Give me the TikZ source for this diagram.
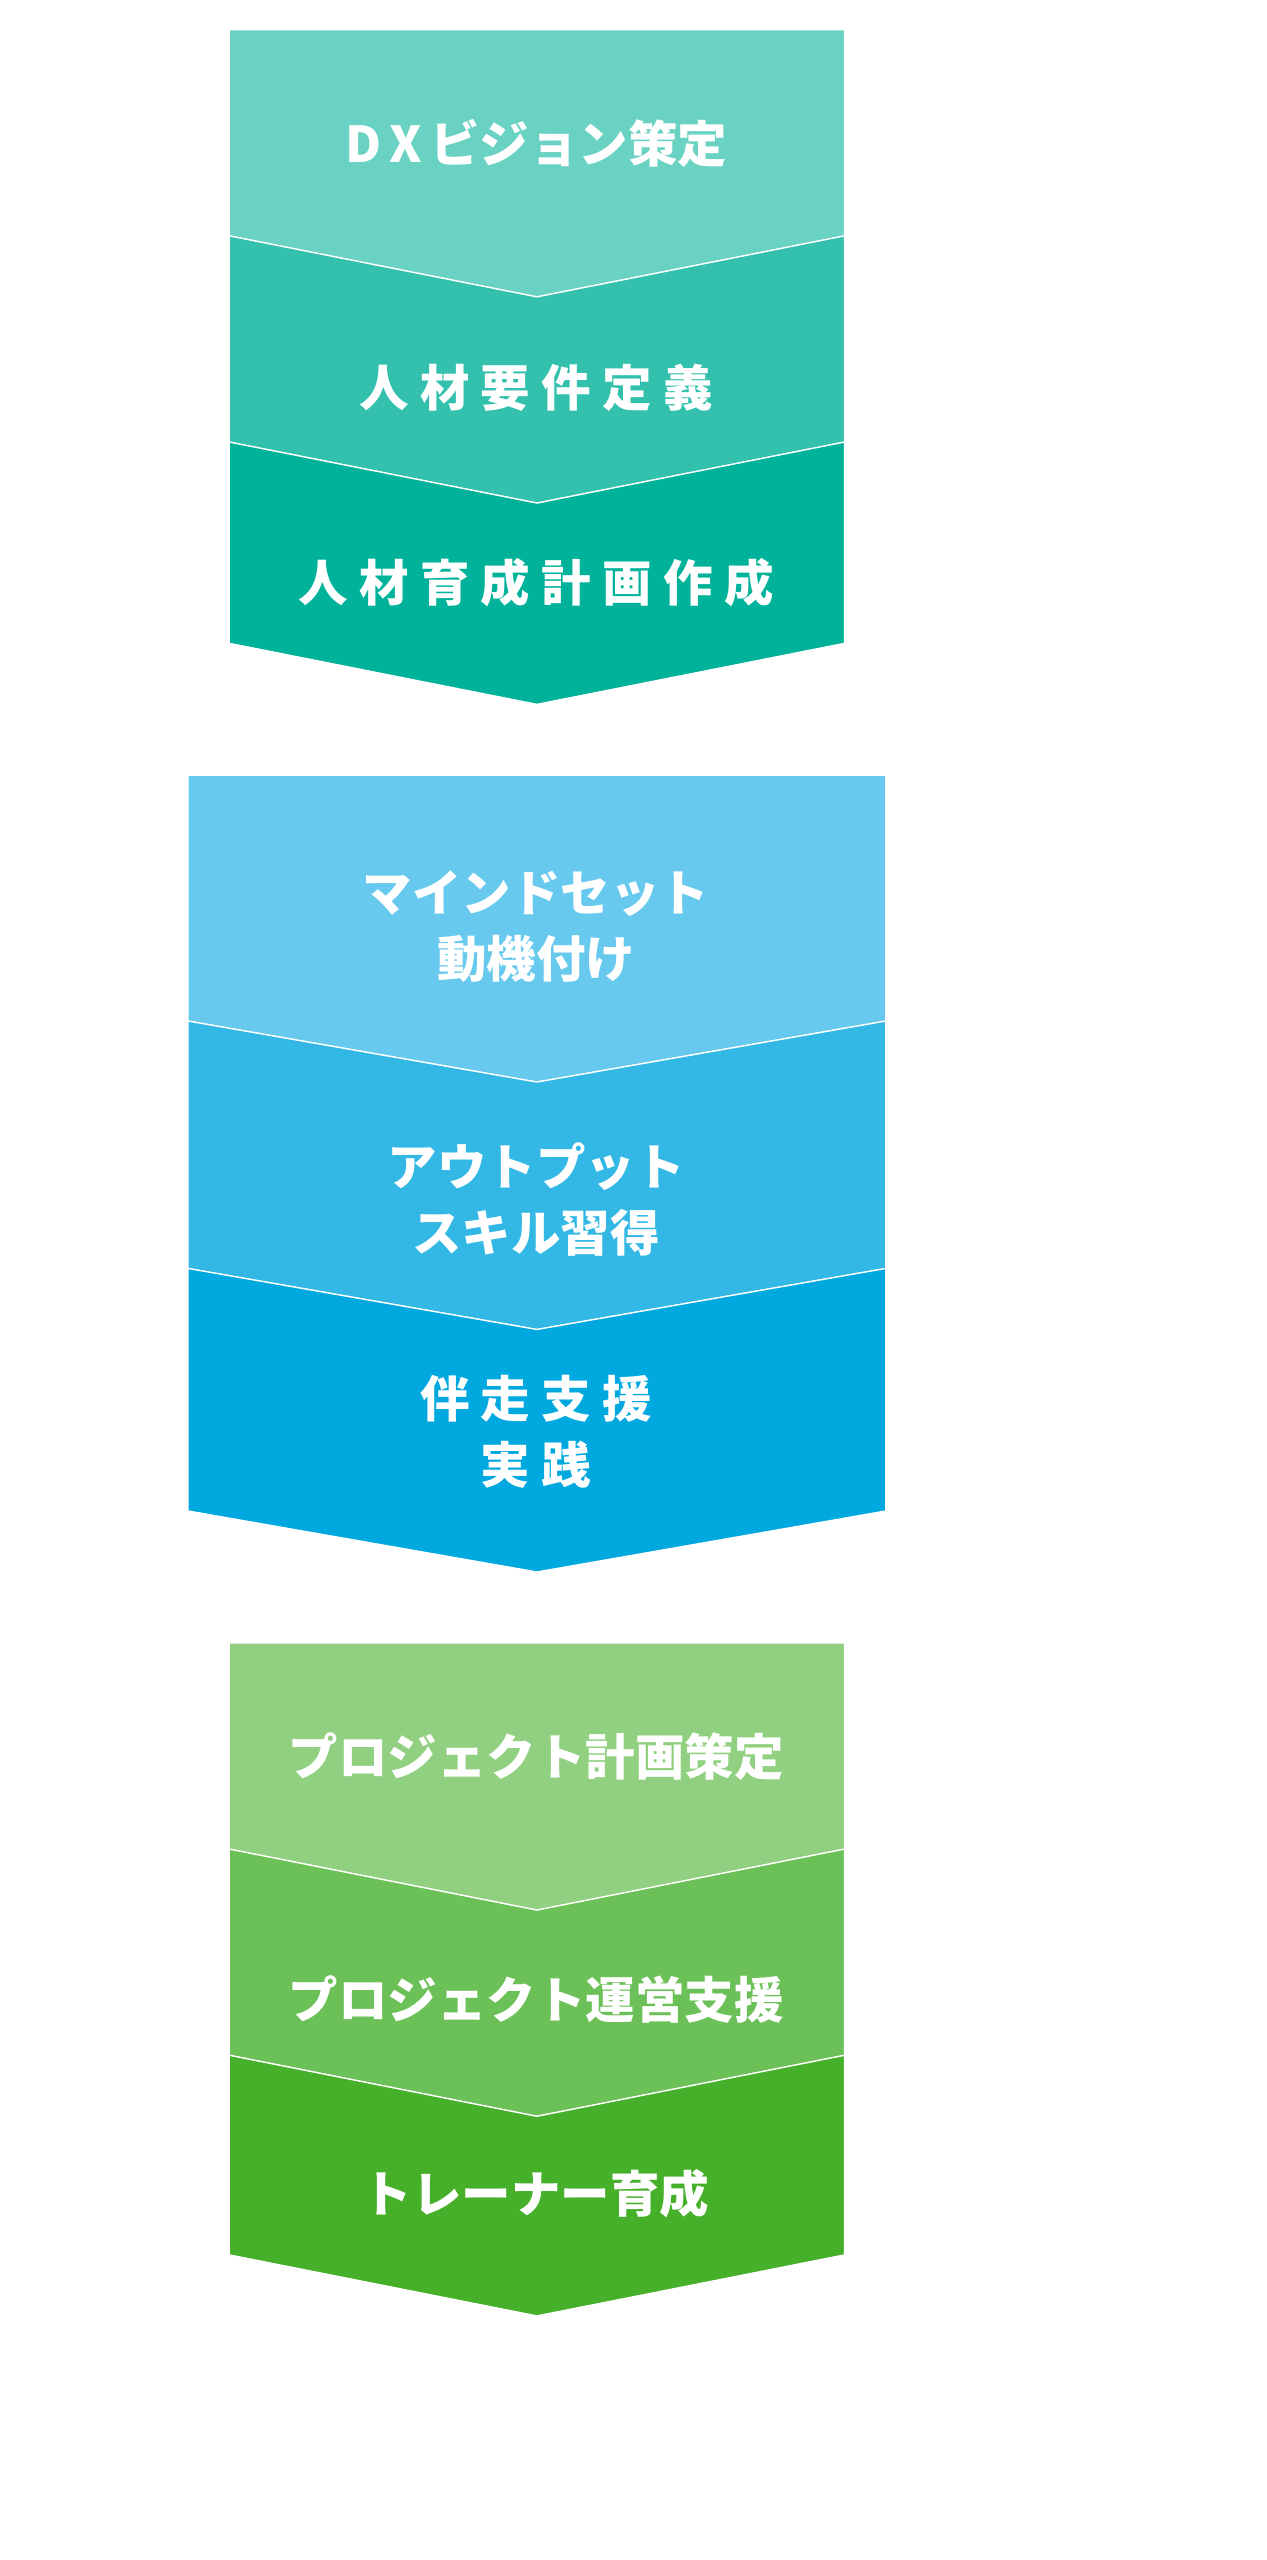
\documentclass[tikz,border=0pt]{standalone}
\usepackage{fontspec}
\newfontfamily\cjk{Noto Sans CJK JP}
\usepackage{tikz}
\usetikzlibrary{calc}

\definecolor{tealA}{HTML}{69D2C2}
\definecolor{tealB}{HTML}{33C1AE}
\definecolor{tealC}{HTML}{00B299}
\definecolor{blueA}{HTML}{66C9ED}
\definecolor{blueB}{HTML}{33B8E6}
\definecolor{blueC}{HTML}{00A8E0}
\definecolor{greenA}{HTML}{90D080}
\definecolor{greenB}{HTML}{6BC058}
\definecolor{greenC}{HTML}{46B02A}

\tikzset{
  band/.style={fill=#1, draw=white, line width=0.8pt},
  stage/.style={text=white, font=\cjk\bfseries\fontsize{30}{40}\selectfont, align=center}
}

% chevron band: left, right, top-side, top-tip, bottom-side, bottom-tip, colour
\newcommand{\chev}[7]{%
  \filldraw[band=#7] (#1,#3) -- ({(#1+#2)/2},#4) -- (#2,#3) -- (#2,#5) -- ({(#1+#2)/2},#6) -- (#1,#5) -- cycle;}

\begin{document}
\begin{tikzpicture}[x=1pt,y=-1pt]
  \useasboundingbox (0,0) rectangle (768,1552);

  % plan
  \chev{139}{512}{18}{18}{143}{180}{tealA}
  \chev{139}{512}{143}{180}{268}{305}{tealB}
  \chev{139}{512}{268}{305}{390}{427}{tealC}
  \node[stage] (vision) at (325,87) {D\,X\,ビジョン策定};
  \node[stage] (req) at (325,235) {人 材 要 件 定 義};
  \node[stage] (plan) at (325,353) {人 材 育 成 計 画 作 成};

  % training
  \chev{114}{537}{470}{470}{619}{656}{blueA}
  \chev{114}{537}{619}{656}{769}{806}{blueB}
  \chev{114}{537}{769}{806}{916}{953}{blueC}
  \node[stage] (mind) at (325,562) {マインドセット\\動機付け};
  \node[stage] (skill) at (325,727) {アウトプット\\スキル習得};
  \node[stage] (practice) at (325,868) {伴 走 支 援\\実 践};

  % project
  \chev{139}{512}{996}{996}{1121}{1158}{greenA}
  \chev{139}{512}{1121}{1158}{1246}{1283}{greenB}
  \chev{139}{512}{1246}{1283}{1367}{1404}{greenC}
  \node[stage] (pjplan) at (325,1065) {プロジェクト計画策定};
  \node[stage] (pjrun) at (325,1212) {プロジェクト運営支援};
  \node[stage] (trainer) at (325,1330) {トレーナー育成};
\end{tikzpicture}
\end{document}
